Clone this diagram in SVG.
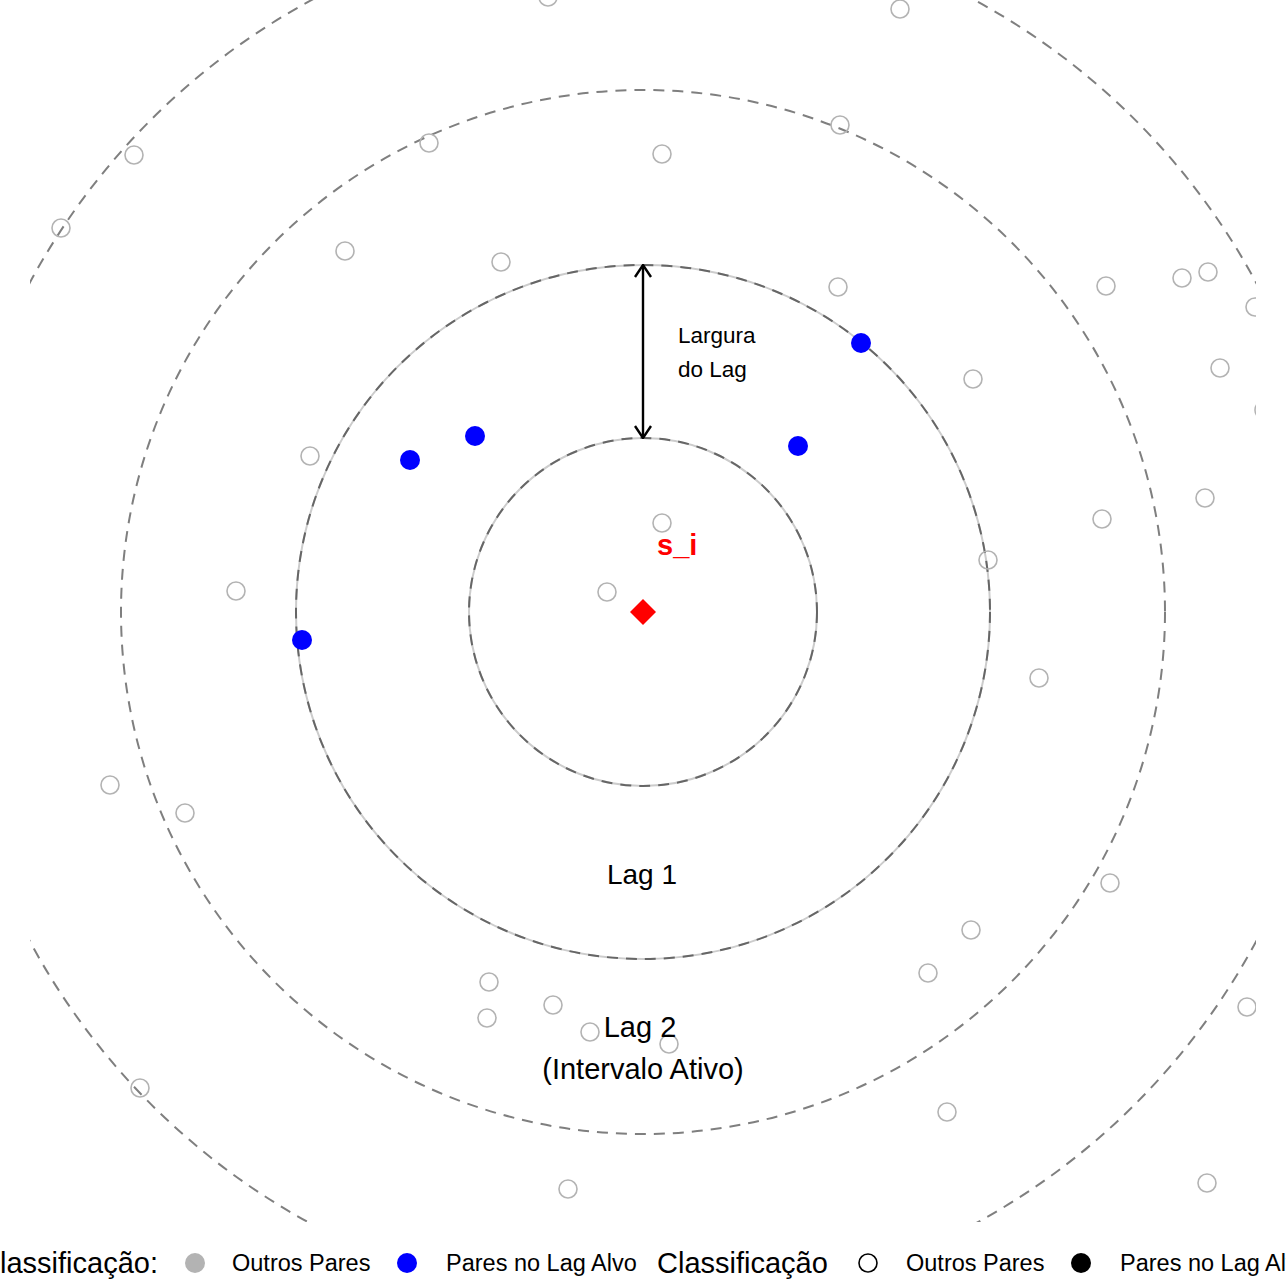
<svg xmlns="http://www.w3.org/2000/svg" width="1286" height="1286" viewBox="0 0 1286 1286">
<style>
.ring{fill:none;stroke:#7f7f7f;stroke-width:2;stroke-dasharray:11 8}
.ringbg{fill:none;stroke:#cccccc;stroke-width:2}
.ringfg{fill:none;stroke:#666666;stroke-width:2;stroke-dasharray:11 8}
.o{fill:none;stroke:#b3b3b3;stroke-width:1.6}
.b{fill:#0000ff}
.t{font-family:"Liberation Sans",Arial,sans-serif;fill:#000}
</style>
<defs>
<clipPath id="panel"><rect x="30" y="-100" width="1226" height="1322"/></clipPath>
<marker id="ah" viewBox="0 0 14 18" refX="13" refY="9" markerWidth="14" markerHeight="18" markerUnits="userSpaceOnUse" orient="auto-start-reverse">
<path d="M1,1 L13,9 L1,17" fill="none" stroke="#000" stroke-width="2.4"/>
</marker>
</defs>
<rect width="1286" height="1286" fill="#fff"/>
<g id="panel-content" clip-path="url(#panel)">
<g id="rings">
<circle class="ring" cx="643" cy="612" r="696"/>
<circle class="ring" cx="643" cy="612" r="522"/>
<circle class="ringbg" cx="643" cy="612" r="347"/>
<circle class="ringfg" cx="643" cy="612" r="347"/>
<circle class="ringbg" cx="643" cy="612" r="174"/>
<circle class="ringfg" cx="643" cy="612" r="174"/>
</g>
<g id="others">
<circle class="o" cx="548" cy="-3" r="9"/>
<circle class="o" cx="900" cy="9" r="9"/>
<circle class="o" cx="134" cy="155" r="9"/>
<circle class="o" cx="61" cy="228" r="9"/>
<circle class="o" cx="429" cy="143" r="9"/>
<circle class="o" cx="662" cy="154" r="9"/>
<circle class="o" cx="840" cy="125" r="9"/>
<circle class="o" cx="345" cy="251" r="9"/>
<circle class="o" cx="501" cy="262" r="9"/>
<circle class="o" cx="838" cy="287" r="9"/>
<circle class="o" cx="1106" cy="286" r="9"/>
<circle class="o" cx="1182" cy="278" r="9"/>
<circle class="o" cx="1208" cy="272" r="9"/>
<circle class="o" cx="1255" cy="307" r="9"/>
<circle class="o" cx="1220" cy="368" r="9"/>
<circle class="o" cx="973" cy="379" r="9"/>
<circle class="o" cx="1264" cy="410" r="9"/>
<circle class="o" cx="310" cy="456" r="9"/>
<circle class="o" cx="1205" cy="498" r="9"/>
<circle class="o" cx="1102" cy="519" r="9"/>
<circle class="o" cx="662" cy="523" r="9"/>
<circle class="o" cx="988" cy="560" r="9"/>
<circle class="o" cx="236" cy="591" r="9"/>
<circle class="o" cx="607" cy="592" r="9"/>
<circle class="o" cx="1039" cy="678" r="9"/>
<circle class="o" cx="110" cy="785" r="9"/>
<circle class="o" cx="185" cy="813" r="9"/>
<circle class="o" cx="1110" cy="883" r="9"/>
<circle class="o" cx="971" cy="930" r="9"/>
<circle class="o" cx="928" cy="973" r="9"/>
<circle class="o" cx="489" cy="982" r="9"/>
<circle class="o" cx="553" cy="1005" r="9"/>
<circle class="o" cx="487" cy="1018" r="9"/>
<circle class="o" cx="590" cy="1032" r="9"/>
<circle class="o" cx="669" cy="1044" r="9"/>
<circle class="o" cx="1247" cy="1007" r="9"/>
<circle class="o" cx="140" cy="1088" r="9"/>
<circle class="o" cx="947" cy="1112" r="9"/>
<circle class="o" cx="568" cy="1189" r="9"/>
<circle class="o" cx="1207" cy="1183" r="9"/>
</g>
<g id="target-pairs">
<circle class="b" cx="861" cy="343" r="10"/>
<circle class="b" cx="475" cy="436" r="10"/>
<circle class="b" cx="410" cy="460" r="10"/>
<circle class="b" cx="798" cy="446" r="10"/>
<circle class="b" cx="302" cy="640" r="10"/>
</g>
<g id="center">
<polygon points="643,599 656,612 643,625 630,612" fill="#ff0000"/>
<text x="657" y="555" font-family="Liberation Sans,Arial,sans-serif" font-weight="bold" font-size="29" fill="#ff0000">s_i</text>
</g>
<g id="connectors">
<line x1="643" y1="265" x2="643" y2="438" stroke="#000" stroke-width="2.4" marker-start="url(#ah)" marker-end="url(#ah)"/>
</g>
<g id="labels">
<text class="t" x="678" y="343" font-size="22.5">Largura</text>
<text class="t" x="678" y="377" font-size="22.5">do Lag</text>
<text class="t" x="642" y="884" font-size="28" text-anchor="middle">Lag 1</text>
<text class="t" x="640" y="1037" font-size="29" text-anchor="middle">Lag 2</text>
<text class="t" x="643" y="1079" font-size="29" text-anchor="middle">(Intervalo Ativo)</text>
</g>
</g>
<g id="legend">
<text class="t" x="158" y="1273" font-size="29" text-anchor="end">Classificação:</text>
<circle cx="195" cy="1263" r="10" fill="#b3b3b3"/>
<text class="t" x="232" y="1271" font-size="23.5">Outros Pares</text>
<circle cx="407" cy="1263" r="10" fill="#0000ff"/>
<text class="t" x="446" y="1271" font-size="23.5">Pares no Lag Alvo</text>
<text class="t" x="657" y="1273" font-size="29">Classificação</text>
<circle cx="868" cy="1263" r="9" fill="none" stroke="#000" stroke-width="1.6"/>
<text class="t" x="906" y="1271" font-size="23.5">Outros Pares</text>
<circle cx="1081" cy="1263" r="10" fill="#000"/>
<text class="t" x="1120" y="1271" font-size="23.5">Pares no Lag Alvo</text>
</g>
</svg>
